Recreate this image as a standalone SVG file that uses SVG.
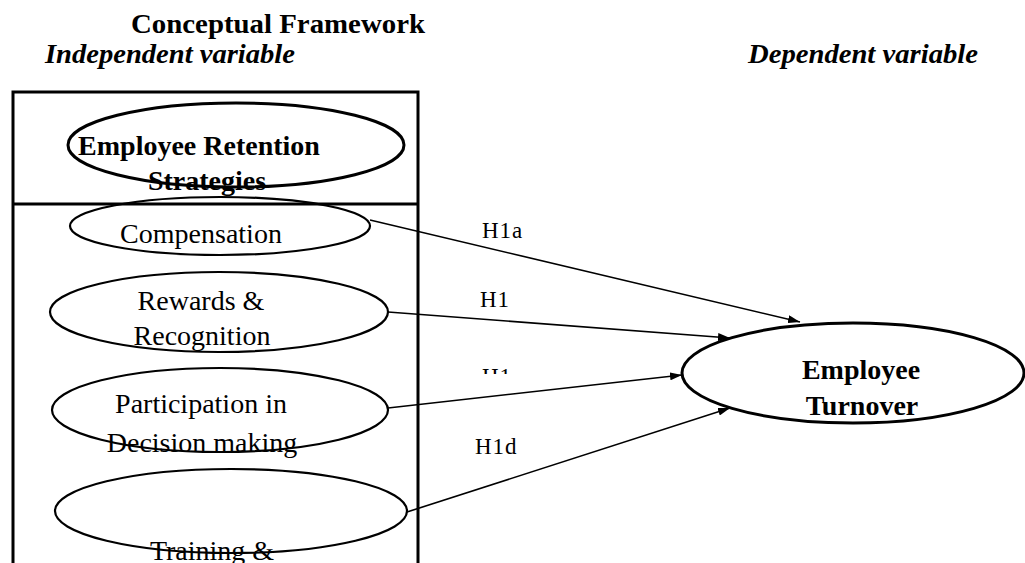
<svg xmlns="http://www.w3.org/2000/svg" width="1025" height="563" viewBox="0 0 1025 563">
<style>
text{font-family:"Liberation Serif","Times New Roman",serif;fill:#000}
.title{font-size:28px;font-weight:bold}
.var{font-size:28px;font-weight:bold;font-style:italic}
.bold{font-size:28px;font-weight:bold;text-anchor:middle}
.reg{font-size:28px;text-anchor:middle}
.lbl{font-size:23px;letter-spacing:1px}
.ell{fill:none;stroke:#000;stroke-width:2.2}
.ellb{fill:none;stroke:#000;stroke-width:3}
.conn{stroke:#000;stroke-width:1.6;fill:none}
</style>
<defs>
<marker id="arr" viewBox="0 0 12 8" refX="12" refY="4" markerWidth="12" markerHeight="8" markerUnits="userSpaceOnUse" orient="auto">
<path d="M0,0 L12,4 L0,8 Z" fill="#000"/>
</marker>
<clipPath id="clipH1"><rect x="470" y="360" width="60" height="14"/></clipPath>
</defs>
<rect width="1025" height="563" fill="#fff"/>
<text class="title" x="131" y="33" textLength="294" lengthAdjust="spacingAndGlyphs">Conceptual Framework</text>
<text class="var" x="45" y="63" textLength="250" lengthAdjust="spacingAndGlyphs">Independent variable</text>
<text class="var" x="748" y="63" textLength="230" lengthAdjust="spacingAndGlyphs">Dependent variable</text>
<g id="framework-box">
<path d="M13,570 V92 H418 V570" fill="none" stroke="#000" stroke-width="3"/>
<line x1="13" y1="204" x2="418" y2="204" stroke="#000" stroke-width="3"/>
</g>
<g id="node-retention">
<ellipse class="ellb" cx="236" cy="145" rx="168" ry="42"/>
<text class="bold" x="199" y="155">Employee Retention</text>
<text class="bold" x="207" y="190">Strategies</text>
</g>
<g id="node-compensation">
<ellipse class="ell" cx="220" cy="226" rx="150" ry="29"/>
<text class="reg" x="201" y="243">Compensation</text>
</g>
<g id="node-rewards">
<ellipse class="ell" cx="219" cy="312" rx="169" ry="40"/>
<text class="reg" x="201" y="310">Rewards &amp;</text>
<text class="reg" x="202" y="345">Recognition</text>
</g>
<g id="node-participation">
<ellipse class="ell" cx="220" cy="410" rx="168" ry="42"/>
<text class="reg" x="201" y="413">Participation in</text>
<text class="reg" x="202" y="452">Decision making</text>
</g>
<g id="node-training">
<ellipse class="ell" cx="231" cy="511" rx="176" ry="42"/>
<text class="reg" x="212" y="560">Training &amp;</text>
</g>
<g id="node-turnover">
<ellipse class="ellb" cx="853" cy="373" rx="171" ry="50" stroke-width="2.6"/>
<text class="bold" x="861" y="379">Employee</text>
<text class="bold" x="862" y="415">Turnover</text>
</g>
<g id="connectors">
<line class="conn" x1="370" y1="220" x2="800" y2="322" marker-end="url(#arr)"/>
<line class="conn" x1="388" y1="312" x2="730" y2="338" marker-end="url(#arr)"/>
<line class="conn" x1="388" y1="408" x2="682" y2="375" marker-end="url(#arr)"/>
<line class="conn" x1="407" y1="512" x2="730" y2="408" marker-end="url(#arr)"/>
<text class="lbl" x="482" y="238">H1a</text>
<text class="lbl" x="480" y="307">H1</text>
<text class="lbl" x="482" y="384" clip-path="url(#clipH1)">H1</text>
<text class="lbl" x="475" y="454">H1d</text>
</g>
</svg>
